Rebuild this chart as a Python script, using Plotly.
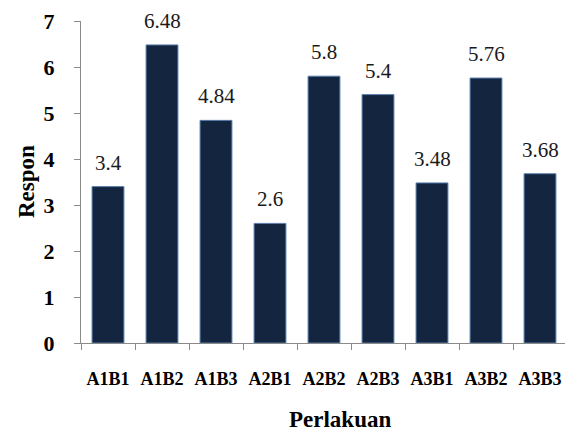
import plotly.graph_objects as go

# Treatment combinations and their mean response
perlakuan = ["A1B1", "A1B2", "A1B3", "A2B1", "A2B2", "A2B3", "A3B1", "A3B2", "A3B3"]
respon = [3.4, 6.48, 4.84, 2.6, 5.8, 5.4, 3.48, 5.76, 3.68]
value_labels = ["3.4", "6.48", "4.84", "2.6", "5.8", "5.4", "3.48", "5.76", "3.68"]
y_ticks = [0, 1, 2, 3, 4, 5, 6, 7]

SERIF = "Times New Roman, Liberation Serif, serif"
W, H = 565, 435
L, R, T, B = 81, 0, 21, 92
plot_w = W - L - R
plot_h = H - T - B

fig = go.Figure()
fig.add_trace(go.Bar(
    x=perlakuan,
    y=respon,
    marker=dict(color="#14253f", line=dict(color="#5b7fae", width=1)),
    hoverinfo="x+y",
))

# value labels above each bar
for cat, val, lab in zip(perlakuan, respon, value_labels):
    fig.add_annotation(
        x=cat, y=val, text=lab, showarrow=False,
        xanchor="center", yanchor="bottom", yshift=10,
        font=dict(family=SERIF, size=21, color="#1a1a1a"),
    )

# axis titles
fig.add_annotation(
    xref="paper", yref="paper",
    x=(26 - L) / plot_w, y=0.5, text="<b>Respon</b>", textangle=-90,
    showarrow=False, xanchor="center", yanchor="middle",
    font=dict(family=SERIF, size=23, color="#000000"),
)
fig.add_annotation(
    xref="paper", yref="paper",
    x=(340 - L) / plot_w, y=-(419 - (T + plot_h)) / plot_h, text="<b>Perlakuan</b>",
    showarrow=False, xanchor="center", yanchor="middle",
    font=dict(family=SERIF, size=23, color="#000000"),
)

fig.update_layout(
    width=W, height=H,
    margin=dict(l=L, r=R, t=T, b=B, pad=0),
    paper_bgcolor="white", plot_bgcolor="white",
    font=dict(family=SERIF),
    bargap=0.41,
    showlegend=False,
    xaxis=dict(
        range=[-0.5, 8.5 - 2 / 54],
        showline=True, linecolor="#8a8a8a", linewidth=1,
        ticks="outside", tickson="boundaries", ticklen=6, tickcolor="#8a8a8a",
        showgrid=False, zeroline=False,
        ticklabelstandoff=19,
        tickfont=dict(family=SERIF, size=18, color="#000000", weight="bold"),
    ),
    yaxis=dict(
        range=[0, 7], tickvals=y_ticks,
        showline=True, linecolor="#8a8a8a", linewidth=1,
        ticks="outside", ticklen=6, tickcolor="#8a8a8a",
        showgrid=False, zeroline=False,
        ticklabelstandoff=15,
        tickfont=dict(family=SERIF, size=22, color="#000000", weight="bold"),
    ),
)

fig.write_html("out.html")
